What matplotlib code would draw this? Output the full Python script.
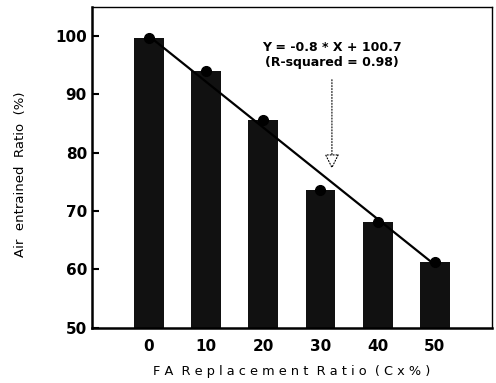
import matplotlib.pyplot as plt

plt.rcParams['font.family'] = ['DejaVu Sans']
plt.rcParams['font.weight'] = 'bold'

# data
fa_ratio = [0, 10, 20, 30, 40, 50]
air_ratio = [99.6, 94.0, 85.6, 73.6, 68.2, 61.2]
fit_x = [0, 50]
fit_y = [100.0, 60.8]

fig = plt.figure(figsize=(4.96, 3.83), dpi=100)
ax = fig.add_axes([0.185, 0.144, 0.807, 0.838])

ax.bar(fa_ratio, air_ratio, width=5.2, color='#111111', zorder=2)
ax.plot(fa_ratio, air_ratio, 'o', color='black', markersize=7, zorder=3)
ax.plot(fit_x, fit_y, color='black', lw=1.6, zorder=4)

# equation note with arrow
ax.annotate('', xy=(32, 76.8), xytext=(32, 93.0),
            arrowprops=dict(arrowstyle='-|>,head_width=0.45,head_length=0.9',
                            fc='white', ec='black', lw=0.8, ls=':'))
ax.text(32, 98.1, 'Y = -0.8 * X + 100.7', ha='center', va='center', fontsize=9)
ax.text(32, 95.4, '(R-squared = 0.98)', ha='center', va='center', fontsize=9)

ax.set_xlim(-10, 60)
ax.set_ylim(50, 105)
ax.set_xticks(fa_ratio)
ax.set_yticks([50, 60, 70, 80, 90, 100])
ax.tick_params(axis='x', length=0, labelsize=11, pad=8)
ax.tick_params(axis='y', direction='in', length=5, width=1.5, labelsize=11)
ax.spines['left'].set_linewidth(1.8)
ax.spines['bottom'].set_linewidth(1.8)
ax.spines['top'].set_linewidth(1.0)
ax.spines['right'].set_linewidth(1.0)

ax.set_xlabel('F A  R e p l a c e m e n t  R a t i o  ( C x % )', fontsize=9.3, labelpad=8)
ax.set_ylabel('Air  entrained  Ratio  (%)', fontsize=9.5)
ax.yaxis.set_label_coords(-0.162, 0.48)

fig.savefig('out.png', dpi=100)
